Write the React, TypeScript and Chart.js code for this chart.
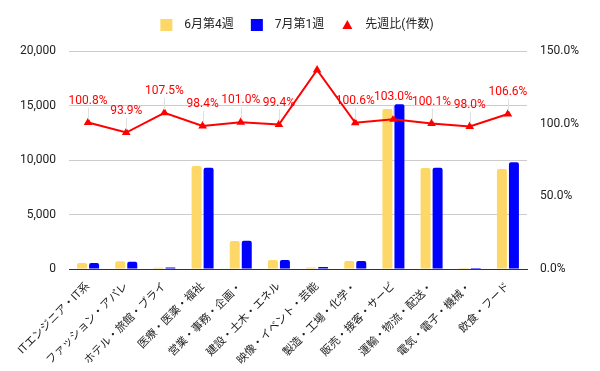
import React, { useEffect, useRef } from "react";
import { Chart, registerables } from "chart.js";

Chart.register(...registerables);

const categories = [
  "ITエンジニア・IT系",
  "ファッション・アパレ",
  "ホテル・旅館・ブライ",
  "医療・医薬・福祉",
  "営業・事務・企画・",
  "建設・土木・エネル",
  "映像・イベント・芸能",
  "製造・工場・化学・",
  "販売・接客・サービ",
  "運輸・物流・配送・",
  "電気・電子・機械・",
  "飲食・フード",
];
const june4 = [550, 710, 120, 9450, 2570, 830, 130, 730, 14680, 9270, 100, 9180];
const july1 = [555, 667, 129, 9300, 2596, 825, 178, 734, 15120, 9280, 98, 9786];
const ratio = [100.8, 93.9, 107.5, 98.4, 101.0, 99.4, 136.9, 100.6, 103.0, 100.1, 98.0, 106.6];
const ratioLabels = ["100.8%", "93.9%", "107.5%", "98.4%", "101.0%", "99.4%", "", "100.6%", "103.0%", "100.1%", "98.0%", "106.6%"];
const leftTicks = [0, 5000, 10000, 15000, 20000];
const rightTicks = [0, 50, 100, 150];
const seriesNames = ["6月第4週", "7月第1週", "先週比(件数)"];
const seriesColors = ["#fdd868", "#0000ff", "#ff0000"];

const FONT = "Roboto, 'Noto Sans CJK JP', sans-serif";

const labelPlugin = {
  id: "ratioLabels",
  afterDatasetsDraw(chart: any) {
    const meta = chart.getDatasetMeta(2);
    const ctx = chart.ctx;
    ctx.save();
    ctx.font = `12px ${FONT}`;
    ctx.textAlign = "center";
    ctx.textBaseline = "middle";
    meta.data.forEach((pt: any, i: number) => {
      const txt = ratioLabels[i];
      if (!txt) return;
      const x = pt.x;
      const y = pt.y;
      ctx.strokeStyle = "#e0e0e0";
      ctx.lineWidth = 1;
      ctx.beginPath();
      ctx.moveTo(Math.round(x) + 0.5, y - 3);
      ctx.lineTo(Math.round(x) + 0.5, y - 15);
      ctx.stroke();
      ctx.fillStyle = "#ff0000";
      ctx.fillText(txt, x, y - 22);
    });
    ctx.restore();
  },
};

const legendPlugin = {
  id: "customLegend",
  afterDraw(chart: any) {
    const ctx = chart.ctx;
    ctx.save();
    ctx.font = `12px ${FONT}`;
    ctx.textBaseline = "middle";
    ctx.textAlign = "left";
    const box = 12;
    const gapIn = 12;
    const gapOut = 17;
    const widths = seriesNames.map((n) => ctx.measureText(n).width);
    let total = 0;
    widths.forEach((w, i) => {
      total += box + gapIn + w + (i < widths.length - 1 ? gapOut : 0);
    });
    let x = 297 - total / 2;
    const cy = 25;
    seriesNames.forEach((n, i) => {
      ctx.fillStyle = seriesColors[i];
      if (i < 2) {
        ctx.fillRect(x, cy - 6, box, box);
      } else {
        ctx.beginPath();
        ctx.moveTo(x + 6, cy - 5);
        ctx.lineTo(x + 11, cy + 4);
        ctx.lineTo(x + 1, cy + 4);
        ctx.closePath();
        ctx.fill();
      }
      ctx.fillStyle = "#222";
      ctx.fillText(n, x + box + gapIn, cy);
      x += box + gapIn + widths[i] + gapOut;
    });
    ctx.restore();
  },
};

export default function App() {
  const ref = useRef<HTMLCanvasElement | null>(null);
  useEffect(() => {
    document.body.style.margin = "0";
    const chart = new Chart(ref.current!, {
      type: "bar",
      data: {
        labels: categories,
        datasets: [
          {
            type: "bar",
            label: seriesNames[0],
            data: june4,
            backgroundColor: seriesColors[0],
            borderRadius: 2,
            yAxisID: "y",
            order: 2,
          },
          {
            type: "bar",
            label: seriesNames[1],
            data: july1,
            backgroundColor: seriesColors[1],
            borderRadius: 2,
            yAxisID: "y",
            order: 2,
          },
          {
            type: "line",
            label: seriesNames[2],
            data: ratio,
            borderColor: seriesColors[2],
            backgroundColor: seriesColors[2],
            borderWidth: 2,
            pointStyle: "triangle",
            pointRadius: 3,
            yAxisID: "y1",
            order: 1,
          } as any,
        ],
      },
      options: {
        responsive: false,
        animation: false,
        layout: { padding: { top: 51, left: 0, right: 0, bottom: 0 } },
        datasets: { bar: { categoryPercentage: 0.63, barPercentage: 0.83 } },
        plugins: {
          legend: { display: false },
          tooltip: { enabled: false },
        },
        scales: {
          x: {
            grid: { display: false },
            border: { color: "#333" },
            ticks: {
              color: "#222",
              font: { family: FONT, size: 11 },
              minRotation: 45,
              maxRotation: 45,
              autoSkip: false,
              padding: 3,
            },
            afterFit: (s: any) => {
              s.height = 102;
            },
          },
          y: {
            position: "left",
            min: 0,
            max: 20000,
            afterBuildTicks: (s: any) => {
              s.ticks = leftTicks.map((v) => ({ value: v }));
            },
            grid: { color: "#cccccc", drawTicks: false },
            border: { display: false },
            ticks: {
              color: "#222",
              font: { family: FONT, size: 12 },
              padding: 13,
              callback: (v: any) => Number(v).toLocaleString("en-US"),
            },
            afterFit: (s: any) => {
              s.width = 69;
            },
          },
          y1: {
            position: "right",
            min: 0,
            max: 150,
            afterBuildTicks: (s: any) => {
              s.ticks = rightTicks.map((v) => ({ value: v }));
            },
            grid: { display: false, drawTicks: false },
            border: { display: false },
            ticks: {
              color: "#222",
              font: { family: FONT, size: 12 },
              padding: 13,
              callback: (v: any) => Number(v).toFixed(1) + "%",
            },
            afterFit: (s: any) => {
              s.width = 73;
            },
          },
        },
      },
      plugins: [labelPlugin, legendPlugin],
    });
    return () => chart.destroy();
  }, []);
  return (
    <div style={{ width: 600, height: 371 }}>
      <canvas ref={ref} width={600} height={371} />
    </div>
  );
}
